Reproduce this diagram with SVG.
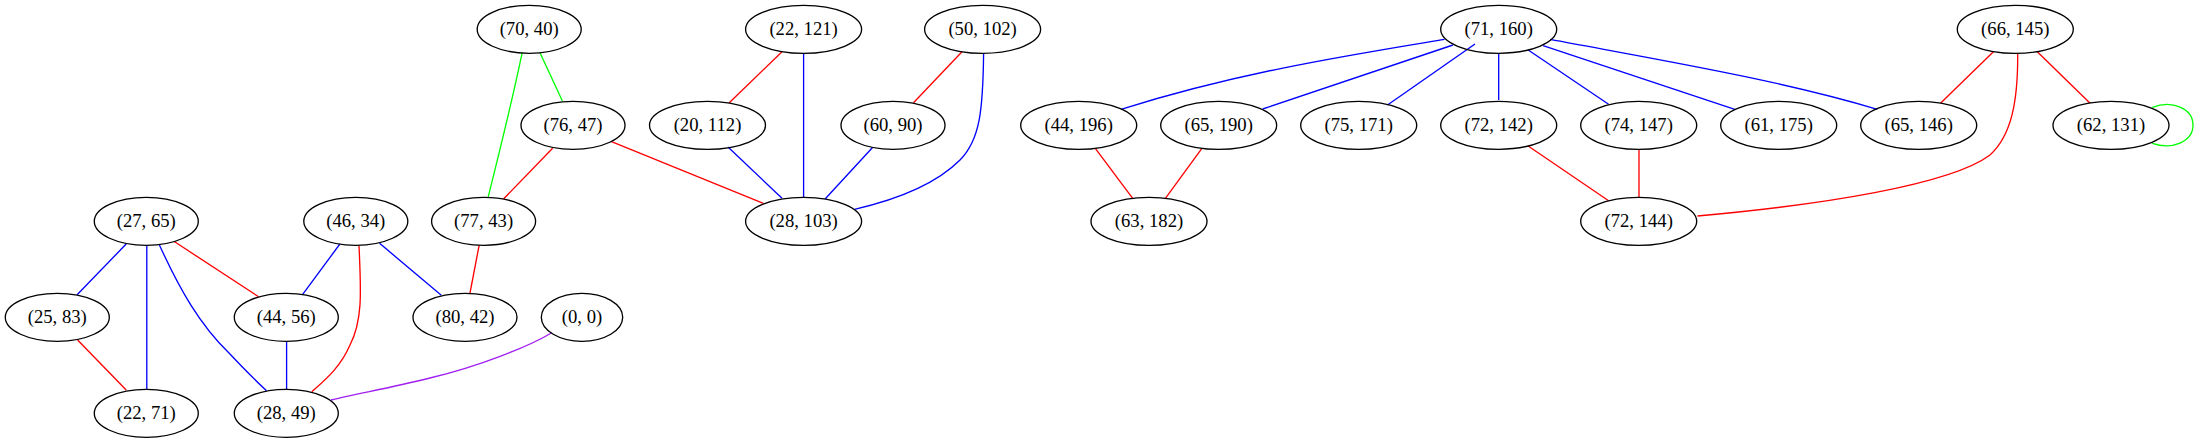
<svg xmlns="http://www.w3.org/2000/svg" width="2198" height="443" viewBox="0 0 2198 443">
<style>
.n ellipse{fill:none;stroke:#000;stroke-width:1.33}
.n text{font-family:"Liberation Serif","Times New Roman",serif;font-size:18.67px;text-anchor:middle;fill:#000}
.e path{fill:none;stroke-width:1.33}
.r{stroke:#ff0000}.b{stroke:#0000ff}.g{stroke:#00ff00}.p{stroke:#a020f0}
</style>
<rect width="2198" height="443" fill="#fff"/>
<g id="edges" class="e">
<path class="g" d="M522.2,52.7 C514,92 500,150 488.1,197.3"/>
<path class="g" d="M540,52.7 L562.4,101"/>
<path class="r" d="M552.6,148.3 L503.5,199"/>
<path class="r" d="M611.5,141.7 L763.4,203.3"/>
<path class="r" d="M782,51.7 L729,103"/>
<path class="b" d="M803.6,53.3 L803.6,197.3"/>
<path class="b" d="M728,147 L782,198.3"/>
<path class="r" d="M962,51.7 L913.5,102.7"/>
<path class="b" d="M983.6,53.3 C983,110 980,140 960,160 C935,185 895,200 854.5,209.3"/>
<path class="b" d="M872.3,147.7 L825.1,199"/>
<path class="b" d="M126.2,244 L77.1,294.7"/>
<path class="b" d="M146.8,245.7 L146.8,389"/>
<path class="b" d="M159.4,245 C180,290 200,325 229,353 C245,370 255,380 266.5,390.7"/>
<path class="r" d="M173.9,241.3 L258.5,296.7"/>
<path class="b" d="M339.9,244 L302.5,294.7"/>
<path class="r" d="M359,245.7 C361,290 363,320 350,345 C340,368 325,380 311.8,391.7"/>
<path class="b" d="M379.6,243.3 L441.3,295.3"/>
<path class="r" d="M479.2,245 L469.8,294"/>
<path class="p" d="M551.7,332.7 C530,346 480,366 430,378 C390,388 355,394 331,400"/>
<path class="r" d="M77.6,340 L126.2,390"/>
<path class="b" d="M286.6,341.3 L286.6,389"/>
<path class="b" d="M1444.5,39.3 C1350,55 1240,72 1121,109.3"/>
<path class="b" d="M1453,45 L1262.7,109"/>
<path class="b" d="M1475,44 L1387.5,105"/>
<path class="b" d="M1498.7,53.3 L1498.7,100"/>
<path class="b" d="M1528.2,50 L1608.6,104.3"/>
<path class="b" d="M1543.1,45.7 L1734.8,109.3"/>
<path class="b" d="M1550.2,39.3 C1660,60 1780,80 1877.4,109.3"/>
<path class="r" d="M1095.3,148.3 L1132.7,198.3"/>
<path class="r" d="M1201.9,148.3 L1165.4,198.3"/>
<path class="r" d="M1528.2,146 L1608.6,200.7"/>
<path class="r" d="M1639,150 L1639,197.3"/>
<path class="r" d="M1993.4,51.7 L1940.5,103.3"/>
<path class="r" d="M2037.3,51.7 L2090.1,103.3"/>
<path class="r" d="M2017.7,53.3 C2018,100 2012,135 1990,155 C1950,185 1820,205 1697.4,216"/>
<path class="g" d="M2152.3,107.3 C2172,100 2193,108 2193,125 C2193,142 2172,150 2152.3,143.3"/>
</g>
<g id="n70_40" class="n"><ellipse cx="529.2" cy="29.3" rx="52" ry="24"/><text x="529.2" y="35.3">(70, 40)</text></g>
<g id="n22_121" class="n"><ellipse cx="803.6" cy="29.3" rx="58" ry="24"/><text x="803.6" y="35.3">(22, 121)</text></g>
<g id="n50_102" class="n"><ellipse cx="982.6" cy="29.3" rx="58" ry="24"/><text x="982.6" y="35.3">(50, 102)</text></g>
<g id="n71_160" class="n"><ellipse cx="1498.7" cy="29.3" rx="58" ry="24"/><text x="1498.7" y="35.3">(71, 160)</text></g>
<g id="n66_145" class="n"><ellipse cx="2015.3" cy="29.3" rx="58" ry="24"/><text x="2015.3" y="35.3">(66, 145)</text></g>
<g id="n76_47" class="n"><ellipse cx="573" cy="125.3" rx="52" ry="24"/><text x="573" y="131.3">(76, 47)</text></g>
<g id="n20_112" class="n"><ellipse cx="707.5" cy="125.3" rx="58" ry="24"/><text x="707.5" y="131.3">(20, 112)</text></g>
<g id="n60_90" class="n"><ellipse cx="893" cy="125.3" rx="52" ry="24"/><text x="893" y="131.3">(60, 90)</text></g>
<g id="n44_196" class="n"><ellipse cx="1078.7" cy="125.3" rx="58" ry="24"/><text x="1078.7" y="131.3">(44, 196)</text></g>
<g id="n65_190" class="n"><ellipse cx="1218.7" cy="125.3" rx="58" ry="24"/><text x="1218.7" y="131.3">(65, 190)</text></g>
<g id="n75_171" class="n"><ellipse cx="1358.7" cy="125.3" rx="58" ry="24"/><text x="1358.7" y="131.3">(75, 171)</text></g>
<g id="n72_142" class="n"><ellipse cx="1498.7" cy="125.3" rx="58" ry="24"/><text x="1498.7" y="131.3">(72, 142)</text></g>
<g id="n74_147" class="n"><ellipse cx="1638.7" cy="125.3" rx="58" ry="24"/><text x="1638.7" y="131.3">(74, 147)</text></g>
<g id="n61_175" class="n"><ellipse cx="1778.7" cy="125.3" rx="58" ry="24"/><text x="1778.7" y="131.3">(61, 175)</text></g>
<g id="n65_146" class="n"><ellipse cx="1918.7" cy="125.3" rx="58" ry="24"/><text x="1918.7" y="131.3">(65, 146)</text></g>
<g id="n62_131" class="n"><ellipse cx="2111" cy="125.3" rx="58" ry="24"/><text x="2111" y="131.3">(62, 131)</text></g>
<g id="n27_65" class="n"><ellipse cx="146.3" cy="221.3" rx="52" ry="24"/><text x="146.3" y="227.3">(27, 65)</text></g>
<g id="n46_34" class="n"><ellipse cx="355.8" cy="221.3" rx="52" ry="24"/><text x="355.8" y="227.3">(46, 34)</text></g>
<g id="n77_43" class="n"><ellipse cx="483.6" cy="221.3" rx="52" ry="24"/><text x="483.6" y="227.3">(77, 43)</text></g>
<g id="n28_103" class="n"><ellipse cx="803.6" cy="221.3" rx="58" ry="24"/><text x="803.6" y="227.3">(28, 103)</text></g>
<g id="n63_182" class="n"><ellipse cx="1149" cy="221.3" rx="58" ry="24"/><text x="1149" y="227.3">(63, 182)</text></g>
<g id="n72_144" class="n"><ellipse cx="1638.7" cy="221.3" rx="58" ry="24"/><text x="1638.7" y="227.3">(72, 144)</text></g>
<g id="n25_83" class="n"><ellipse cx="57.3" cy="317.3" rx="52" ry="24"/><text x="57.3" y="323.3">(25, 83)</text></g>
<g id="n44_56" class="n"><ellipse cx="286.3" cy="317.3" rx="52" ry="24"/><text x="286.3" y="323.3">(44, 56)</text></g>
<g id="n80_42" class="n"><ellipse cx="465" cy="317.3" rx="52" ry="24"/><text x="465" y="323.3">(80, 42)</text></g>
<g id="n0_0" class="n"><ellipse cx="582" cy="317.3" rx="40.7" ry="24"/><text x="582" y="323.3">(0, 0)</text></g>
<g id="n22_71" class="n"><ellipse cx="146.3" cy="413.3" rx="52" ry="24"/><text x="146.3" y="419.3">(22, 71)</text></g>
<g id="n28_49" class="n"><ellipse cx="286.3" cy="413.3" rx="52" ry="24"/><text x="286.3" y="419.3">(28, 49)</text></g>
</svg>
